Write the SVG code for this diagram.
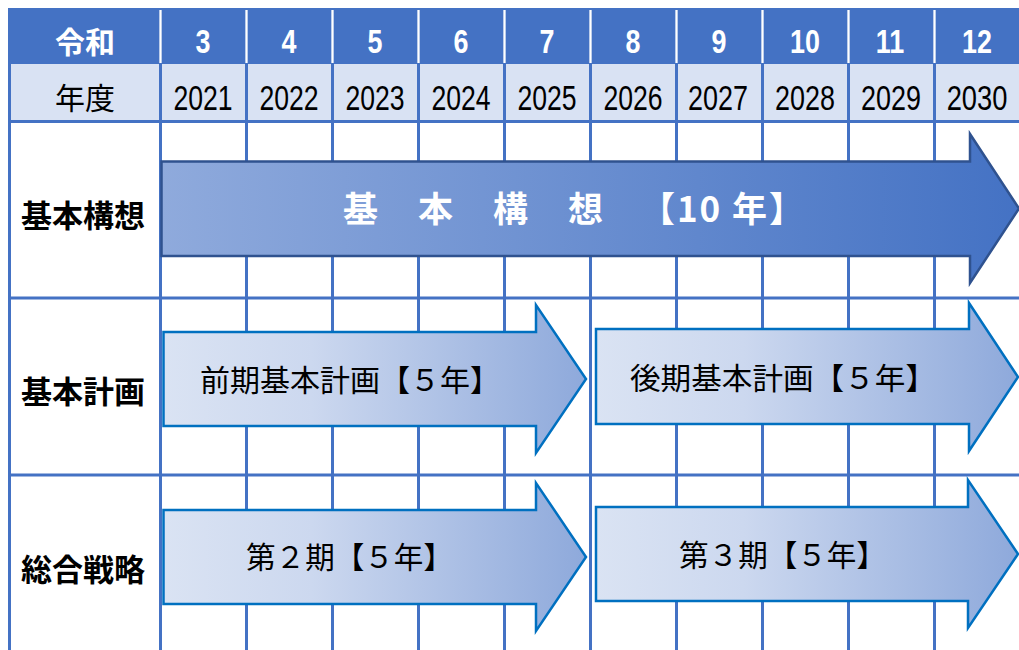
<svg xmlns="http://www.w3.org/2000/svg" width="1019" height="650" viewBox="0 0 1019 650">
<style>
.grid line{stroke:#4472C4;stroke-width:3}
.sep{stroke:#FFFFFF;stroke-width:2.3}
.hdr{font-family:"Noto Sans CJK JP",sans-serif;font-size:30px;font-weight:bold;fill:#FFFFFF;text-anchor:middle}
.num{font-family:"Liberation Sans",Arial,sans-serif;font-size:34px;font-weight:bold;fill:#FFFFFF;text-anchor:middle}
.yr{font-family:"Liberation Sans",Arial,sans-serif;font-size:35px;fill:#000000;text-anchor:middle}
.nendo{font-family:"Noto Sans CJK JP",sans-serif;font-size:30px;fill:#000000;text-anchor:middle}
.row{font-family:"Noto Sans CJK JP",sans-serif;font-size:31px;font-weight:bold;fill:#000000}
.big{font-family:"Noto Sans CJK JP",sans-serif;font-size:35px;font-weight:bold;fill:#FFFFFF}
.lbl{font-family:"Noto Sans CJK JP",sans-serif;font-size:30px;fill:#000000}
.a1{fill:url(#g1);stroke:#2F528F;stroke-width:2.5;stroke-linejoin:miter}
.a2{fill:url(#g2);stroke:#0070C0;stroke-width:2.5;stroke-linejoin:miter}
</style>
<defs>
<linearGradient id="g1" x1="0" y1="0" x2="1" y2="0">
<stop offset="0" stop-color="#8FAADC"/>
<stop offset="1" stop-color="#4472C4"/>
</linearGradient>
<linearGradient id="g2" x1="0" y1="0" x2="1" y2="0">
<stop offset="0" stop-color="#DAE3F3"/>
<stop offset="0.35" stop-color="#CCD8EF"/>
<stop offset="1" stop-color="#8EA9DB"/>
</linearGradient>
</defs>
<rect x="0" y="0" width="1019" height="650" fill="#FFFFFF"/>
<g id="header">
<rect x="8" y="8" width="1011" height="56" fill="#4472C4"/>
<rect x="8" y="64" width="1011" height="57" fill="#D9E2F3"/>
<g>
<line class="sep" x1="160.5" y1="10" x2="160.5" y2="63"/>
<line class="sep" x1="246.5" y1="10" x2="246.5" y2="63"/>
<line class="sep" x1="332.5" y1="10" x2="332.5" y2="63"/>
<line class="sep" x1="418.5" y1="10" x2="418.5" y2="63"/>
<line class="sep" x1="504.5" y1="10" x2="504.5" y2="63"/>
<line class="sep" x1="590.5" y1="10" x2="590.5" y2="63"/>
<line class="sep" x1="676.5" y1="10" x2="676.5" y2="63"/>
<line class="sep" x1="762.5" y1="10" x2="762.5" y2="63"/>
<line class="sep" x1="848.5" y1="10" x2="848.5" y2="63"/>
<line class="sep" x1="934.5" y1="10" x2="934.5" y2="63"/>
</g>
<text class="hdr" x="85" y="53">令和</text>
<text class="num" transform="translate(203 53) scale(0.79 1)">3</text>
<text class="num" transform="translate(289 53) scale(0.79 1)">4</text>
<text class="num" transform="translate(375 53) scale(0.79 1)">5</text>
<text class="num" transform="translate(461 53) scale(0.79 1)">6</text>
<text class="num" transform="translate(547 53) scale(0.79 1)">7</text>
<text class="num" transform="translate(633 53) scale(0.79 1)">8</text>
<text class="num" transform="translate(719 53) scale(0.79 1)">9</text>
<text class="num" transform="translate(805 53) scale(0.79 1)">10</text>
<text class="num" transform="translate(890 53) scale(0.79 1)">11</text>
<text class="num" transform="translate(977 53) scale(0.79 1)">12</text>
<text class="nendo" x="85" y="109">年度</text>
<text class="yr" transform="translate(203 110) scale(0.76 1)">2021</text>
<text class="yr" transform="translate(289 110) scale(0.76 1)">2022</text>
<text class="yr" transform="translate(375 110) scale(0.76 1)">2023</text>
<text class="yr" transform="translate(461 110) scale(0.76 1)">2024</text>
<text class="yr" transform="translate(547 110) scale(0.76 1)">2025</text>
<text class="yr" transform="translate(633 110) scale(0.76 1)">2026</text>
<text class="yr" transform="translate(718 110) scale(0.77 1)">2027</text>
<text class="yr" transform="translate(805 110) scale(0.77 1)">2028</text>
<text class="yr" transform="translate(891 110) scale(0.77 1)">2029</text>
<text class="yr" transform="translate(977 110) scale(0.78 1)">2030</text>
</g>
<g id="grid" class="grid">
<line x1="9.5" y1="64" x2="9.5" y2="650"/>
<line x1="160.5" y1="64" x2="160.5" y2="650"/>
<line x1="246.5" y1="64" x2="246.5" y2="650"/>
<line x1="332.5" y1="64" x2="332.5" y2="650"/>
<line x1="418.5" y1="64" x2="418.5" y2="650"/>
<line x1="504.5" y1="64" x2="504.5" y2="650"/>
<line x1="590.5" y1="64" x2="590.5" y2="650"/>
<line x1="676.5" y1="64" x2="676.5" y2="650"/>
<line x1="762.5" y1="64" x2="762.5" y2="650"/>
<line x1="848.5" y1="64" x2="848.5" y2="650"/>
<line x1="934.5" y1="64" x2="934.5" y2="650"/>
<line x1="8" y1="121.5" x2="1019" y2="121.5"/>
<line x1="8" y1="298" x2="1019" y2="298"/>
<line x1="8" y1="475" x2="1019" y2="475"/>
</g>
<g id="row-labels">
<text class="row" x="21" y="227">基本構想</text>
<text class="row" x="21" y="403">基本計画</text>
<text class="row" x="21" y="581">総合戦略</text>
</g>
<g id="arrow-kihonkoso">
<polygon class="a1" points="161.5,161.5 970,161.5 970,134 1019,208.5 970,283 970,256 161.5,256"/>
<text class="big" y="222"><tspan x="343">基</tspan><tspan x="418">本</tspan><tspan x="493">構</tspan><tspan x="568">想</tspan></text>
<text class="big" x="640" y="222" textLength="164" lengthAdjust="spacing">【10 年】</text>
</g>
<g id="arrow-zenki">
<polygon class="a2" points="163.5,332 536,332 536,305 586,379 536,453 536,426 163.5,426"/>
<text class="lbl" x="200" y="391" textLength="300" lengthAdjust="spacingAndGlyphs">前期基本計画【５年】</text>
</g>
<g id="arrow-koki">
<polygon class="a2" points="596,329 969,329 969,303 1018,377 969,451 969,424 596,424"/>
<text class="lbl" x="630" y="389" textLength="306" lengthAdjust="spacingAndGlyphs">後期基本計画【５年】</text>
</g>
<g id="arrow-dai2ki">
<polygon class="a2" points="163.5,510 536,510 536,483 586,557 536,631 536,604 163.5,604"/>
<text class="lbl" x="246" y="568" textLength="207" lengthAdjust="spacingAndGlyphs">第２期【５年】</text>
</g>
<g id="arrow-dai3ki">
<polygon class="a2" points="596,507 968,507 968,480 1018,554 968,628 968,601 596,601"/>
<text class="lbl" x="679" y="566" textLength="207" lengthAdjust="spacingAndGlyphs">第３期【５年】</text>
</g>
</svg>
